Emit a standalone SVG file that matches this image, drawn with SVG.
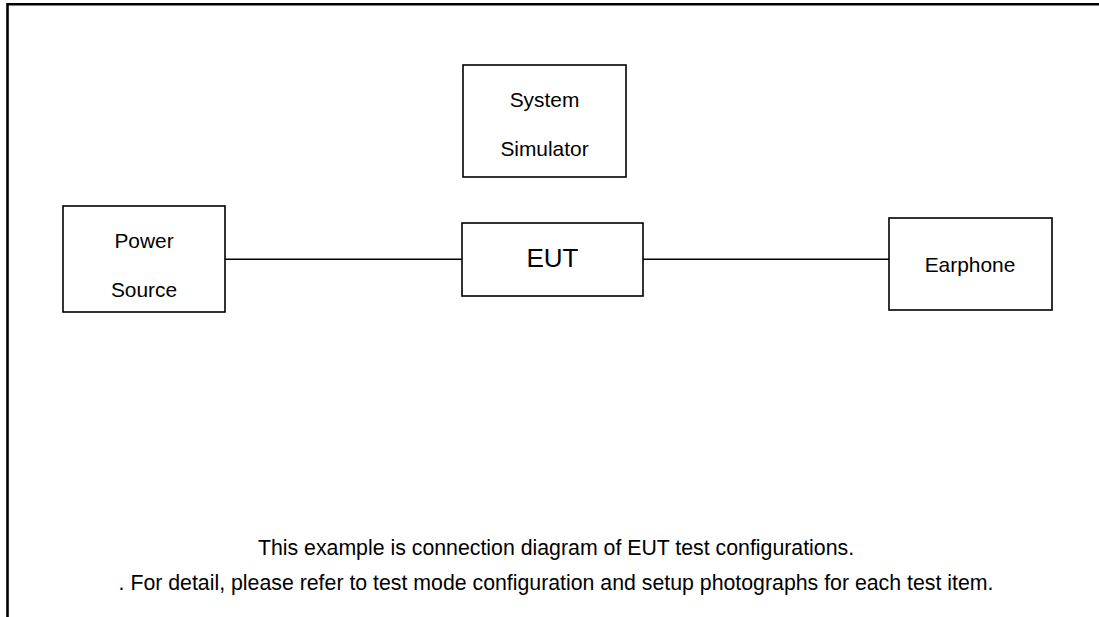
<svg xmlns="http://www.w3.org/2000/svg" width="1099" height="617" viewBox="0 0 1099 617">
<style>
.box{fill:#fff;stroke:#000;stroke-width:1.6}
.lbl{font-family:"Liberation Sans",Arial,sans-serif;font-size:20.9px;fill:#000;text-anchor:middle}
.big{font-size:26px}
.note{font-size:21.3px}
.conn{stroke:#000;stroke-width:1.6;fill:none}
.frame{stroke:#000;stroke-width:2.6;fill:none}
</style>
<rect width="1099" height="617" fill="#fff"/>
<path class="frame" d="M7.5,617 V4.2 H1099"/>
<g id="connectors">
<line class="conn" x1="225" y1="259.3" x2="462" y2="259.3"/>
<line class="conn" x1="643" y1="259.3" x2="889" y2="259.3"/>
</g>
<g id="system-simulator">
<rect class="box" x="463" y="65" width="163" height="112"/>
<text class="lbl" x="544.5" y="107">System</text>
<text class="lbl" x="544.5" y="156">Simulator</text>
</g>
<g id="power-source">
<rect class="box" x="63" y="206" width="162" height="106"/>
<text class="lbl" x="144" y="248">Power</text>
<text class="lbl" x="144" y="296.5">Source</text>
</g>
<g id="eut">
<rect class="box" x="462" y="223" width="181" height="73"/>
<text class="lbl big" x="552.5" y="267">EUT</text>
</g>
<g id="earphone">
<rect class="box" x="889" y="218" width="163" height="92"/>
<text class="lbl" x="970" y="272">Earphone</text>
</g>
<g id="notes">
<text class="lbl note" x="556" y="555">This example is connection diagram of EUT test configurations.</text>
<text class="lbl note" x="556" y="590">. For detail, please refer to test mode configuration and setup photographs for each test item.</text>
</g>
</svg>
